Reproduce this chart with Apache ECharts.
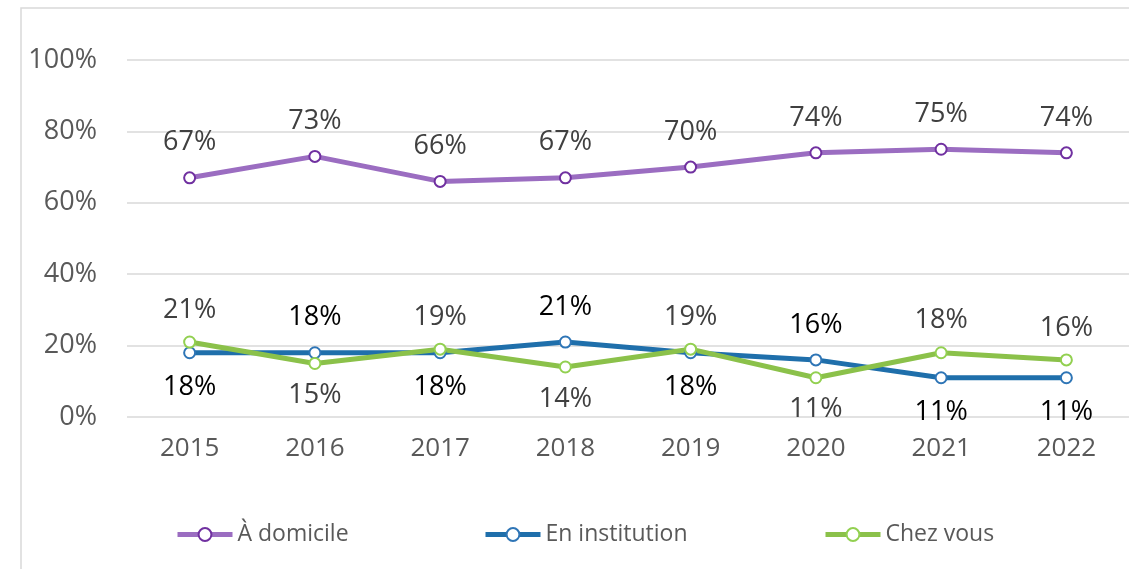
<!DOCTYPE html>
<html>
<head>
<meta charset="utf-8">
<script src="https://cdn.jsdelivr.net/npm/echarts@6/dist/echarts.min.js"></script>
<style>
  html, body { margin: 0; padding: 0; background: #fff; }
  #chart { width: 1129px; height: 569px; }
</style>
</head>
<body>
<div id="chart"></div>
<script>
// années
const years = ['2015', '2016', '2017', '2018', '2019', '2020', '2021', '2022'];

// valeurs en %
const domicile = [67, 73, 66, 67, 70, 74, 75, 74];
const institution = [18, 18, 18, 21, 18, 16, 11, 11];
const chezVous = [21, 15, 19, 14, 19, 11, 18, 16];

// position des étiquettes (au-dessus / en dessous)
const institutionLabelPos = ['bottom', 'top', 'bottom', 'top', 'bottom', 'top', 'bottom', 'bottom'];
const chezVousLabelPos = ['top', 'bottom', 'top', 'bottom', 'top', 'bottom', 'top', 'top'];

const FONT = 'Open Sans';

const makeSeries = (name, values, lineColor, markColor, labelColor, positions, dist) => ({
  name: name,
  type: 'line',
  data: values.map((v, i) => ({
    value: v,
    label: { position: positions ? positions[i] : 'top' }
  })),
  symbol: 'circle',
  symbolSize: 11,
  showAllSymbol: true,
  lineStyle: { width: 5, color: lineColor },
  itemStyle: { color: '#fff', borderColor: markColor, borderWidth: 2 },
  label: {
    show: true,
    distance: dist,
    formatter: '{c}%',
    fontFamily: FONT,
    fontSize: 27,
    color: labelColor
  },
  emphasis: { disabled: true },
  animation: false
});

const chart = echarts.init(document.getElementById('chart'));

const legendBase = {
  bottom: 23,
  padding: 0,
  itemWidth: 55,
  itemHeight: 16,
  itemGap: 2,
  lineStyle: { width: 5 },
  textStyle: { fontFamily: FONT, fontSize: 23, color: '#595959' },
  selectedMode: false
};

chart.setOption({
  backgroundColor: '#fff',
  graphic: [{
    type: 'rect',
    shape: { x: 21, y: 8, width: 1200, height: 700 },
    style: { fill: 'none', stroke: '#d9d9d9', lineWidth: 1.5 },
    silent: true
  }],
  grid: { left: 127, top: 60, width: 1006, height: 357, containLabel: false },
  xAxis: {
    type: 'category',
    data: years,
    boundaryGap: true,
    axisLine: { show: false },
    axisTick: { show: false },
    axisLabel: { margin: 19, fontFamily: FONT, fontSize: 26, color: '#595959' }
  },
  yAxis: {
    type: 'value',
    min: 0,
    max: 100,
    interval: 20,
    axisLine: { show: false },
    axisTick: { show: false },
    axisLabel: { margin: 30, formatter: '{value}%', fontFamily: FONT, fontSize: 27, color: '#595959' },
    splitLine: { lineStyle: { color: '#d9d9d9', width: 1.5 } }
  },
  legend: [
    Object.assign({}, legendBase, { left: 175, data: ['À domicile'] }),
    Object.assign({}, legendBase, { left: 483, data: ['En institution'] }),
    Object.assign({}, legendBase, { left: 823, data: ['Chez vous'] })
  ],
  series: [
    makeSeries('À domicile', domicile, '#9b6dc1', '#7030a0', '#404040', null, 15),
    makeSeries('En institution', institution, '#1f6fab', '#2e75b6', '#000000', institutionLabelPos, 15),
    makeSeries('Chez vous', chezVous, '#8bc14a', '#92d050', '#404040', chezVousLabelPos, 12)
  ]
});
</script>
</body>
</html>
